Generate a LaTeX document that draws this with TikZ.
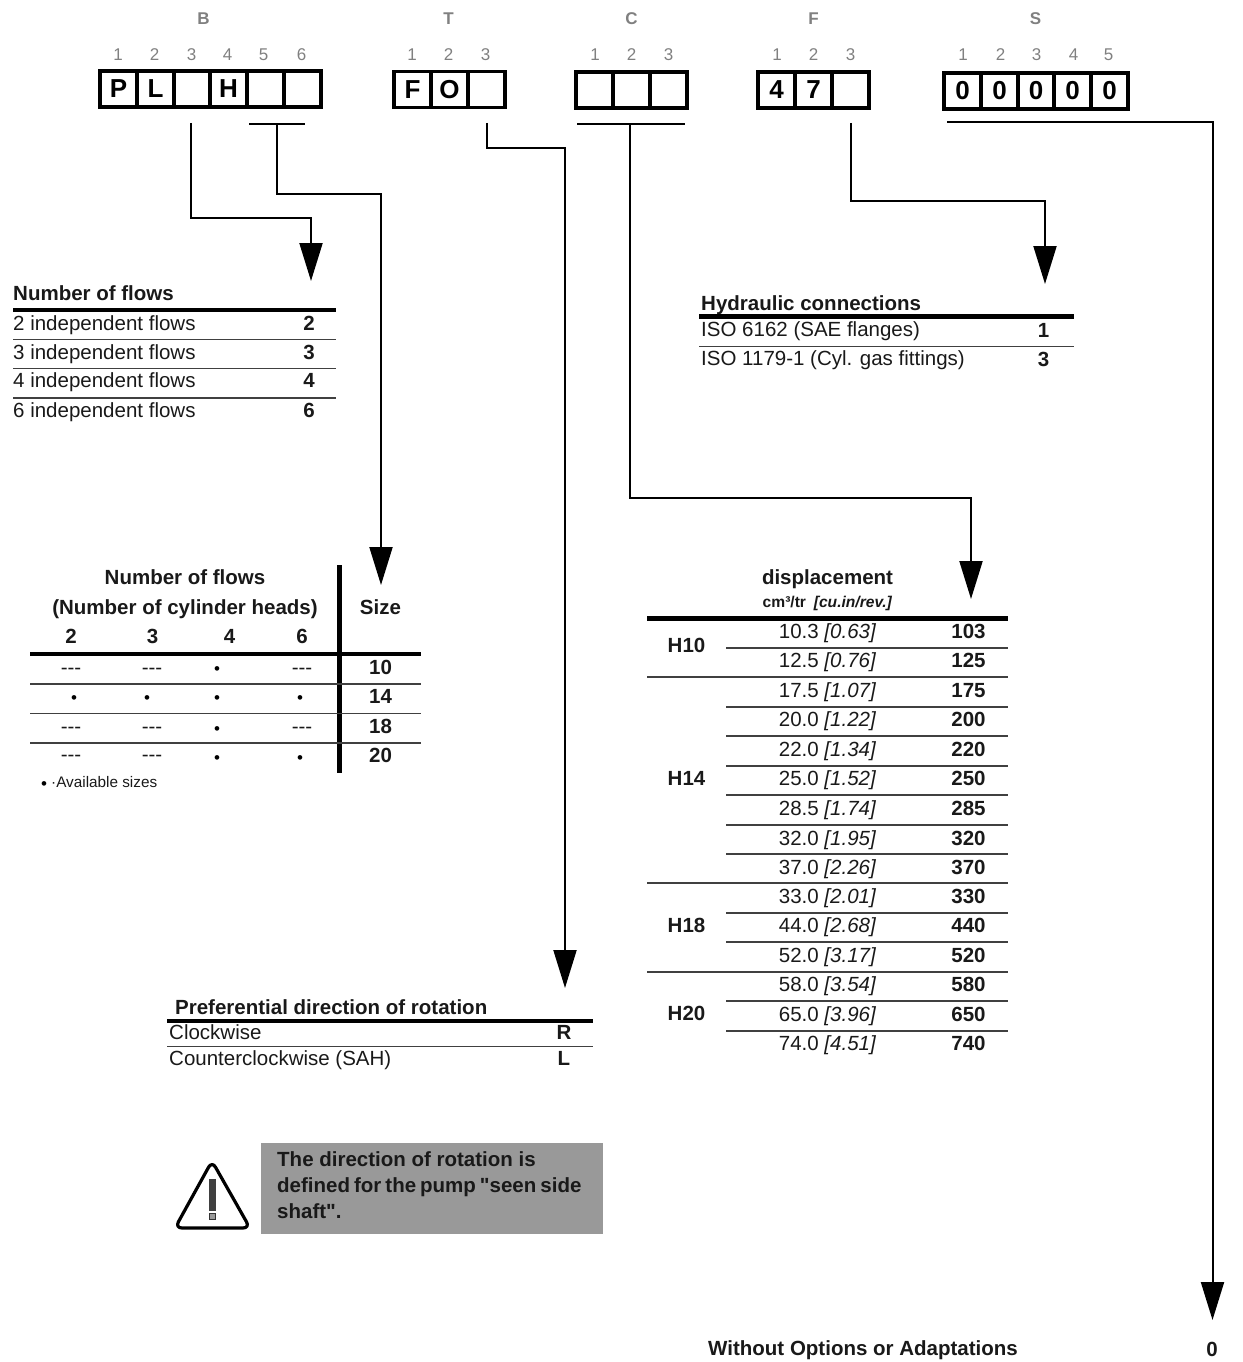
\documentclass[tikz,border=0pt]{standalone}
\usepackage{fontspec}
\setmainfont[Ligatures=TeXOff]{Liberation Sans}
\usetikzlibrary{arrows.meta}
\newcommand{\fs}[1]{\fontsize{#1}{#1}\selectfont}
\definecolor{hdr}{gray}{0.5}
\definecolor{ink}{gray}{0.1}
\definecolor{warn}{gray}{0.6}
\tikzset{
  T/.style={anchor=base west,inner sep=0pt,text=ink,font=\fs{20.5}},
  B/.style={anchor=base west,inner sep=0pt,text=ink,font=\fs{20.5}\bfseries},
  C/.style={anchor=base,inner sep=0pt,text=ink,font=\fs{20.5}\bfseries},
  CN/.style={anchor=base,inner sep=0pt,text=ink,font=\fs{20.5}},
  hl/.style={anchor=base,inner sep=0pt,text=hdr,font=\fs{17}\bfseries},
  hn/.style={anchor=base,inner sep=0pt,text=hdr,font=\fs{17}},
  cell/.style={draw=black,line width=3.6pt,minimum width=36.7pt,minimum height=36pt,inner sep=0pt,anchor=center,text=black,font=\fs{26}\bfseries},
  conn/.style={draw=black,line width=2pt},
  arr/.style={conn,-{Triangle[length=38pt,width=23pt]}},
  thick rule/.style={draw=black,line width=4.4pt},
  thin rule/.style={draw=black!75,line width=1.4pt},
  dot/.style={anchor=center,inner sep=0pt,text=black,font=\fs{17}},
}
\begin{document}
\begin{tikzpicture}[x=1pt,y=-1pt]
\useasboundingbox (0,0) rectangle (1242,1362);

% header letters and digits
\node[hl] (lb) at (203.5,25) {B};
\node[hl] (lt) at (448.5,25) {T};
\node[hl] (lc) at (631.5,25) {C};
\node[hl] (lf) at (813.5,25) {F};
\node[hl] (ls) at (1035.5,25) {S};
\foreach \n/\x/\d in {a1/118/1,a2/154.5/2,a3/191.5/3,a4/227.5/4,a5/263.5/5,a6/301.5/6,
  b1/412/1,b2/448.5/2,b3/485.5/3,c1/595/1,c2/631.5/2,c3/668.5/3,d1/777/1,d2/813.5/2,d3/850.5/3,
  e1/963/1,e2/1000.5/2,e3/1036.5/3,e4/1073.5/4,e5/1108.5/5}
  \node[hn] (n\n) at (\x,61) {\d};

% code boxes
\foreach \n/\x/\t in {1/118.5/P,2/155.5/L,3/192/{},4/228.5/H,5/265.5/{},6/302.5/{}}
  \node[cell] (ba\n) at (\x,89) {\t};
\foreach \n/\x/\t in {1/412.5/F,2/449.5/O,3/486.5/{}}
  \node[cell] (tb\n) at (\x,89.5) {\t};
\foreach \n/\x in {1/594.5,2/631.5,3/668.5}
  \node[cell] (cb\n) at (\x,90) {};
\foreach \n/\x/\t in {1/776.5/4,2/813.5/7,3/850.5/{}}
  \node[cell] (fb\n) at (\x,90) {\t};
\foreach \n/\x in {1/962.5,2/999.5,3/1036,4/1072.5,5/1109.5}
  \node[cell] (sb\n) at (\x,91) {0};

% connector ends
\coordinate (s1) at (191,123);
\coordinate (k1) at (311,218);
\coordinate (e1) at (311,281);
\coordinate (bar2l) at (249,124);
\coordinate (bar2r) at (305,124);
\coordinate (s2) at (277,124);
\coordinate (k2) at (381,194);
\coordinate (e2) at (381,585);
\coordinate (s3) at (487,123);
\coordinate (k3) at (565,148);
\coordinate (e3) at (565,988);
\coordinate (bar4l) at (577,124);
\coordinate (bar4r) at (685,124);
\coordinate (s4) at (630,124);
\coordinate (k4) at (971,498);
\coordinate (e4) at (971,599);
\coordinate (s5) at (851,123);
\coordinate (k5) at (1045,201);
\coordinate (e5) at (1045,284);
\coordinate (s6) at (947,122);
\coordinate (k6) at (1212.5,122);
\coordinate (e6) at (1212.5,1320);

\draw[arr] (s1) |- (k1) -- (e1);
\draw[conn] (bar2l) -- (bar2r);
\draw[arr] (s2) |- (k2) -- (e2);
\draw[arr] (s3) |- (k3) -- (e3);
\draw[conn] (bar4l) -- (bar4r);
\draw[arr] (s4) |- (k4) -- (e4);
\draw[arr] (s5) |- (k5) -- (e5);
\draw[arr] (s6) -- (k6) -- (e6);

% Number of flows table
\node[B] (t1h) at (13,300) {Number of flows};
\draw[thick rule] (13,310) -- (336,310);
\foreach \n/\y/\v in {2/330/2,3/359/3,4/387/4,6/417/6}{
  \node[T] (t1r\n) at (13,\y) {\v{} independent flows};
  \node[C] (t1v\n) at (309,\y) {\v};
}
\foreach \y in {339.5,368.5,398} \draw[thin rule] (13,\y) -- (336,\y);

% Size table
\node[C] (t2h1) at (185,584) {Number of flows};
\node[C] (t2h2) at (185,614) {(Number of cylinder heads)};
\node[C] (t2size) at (380.5,614) {Size};
\foreach \x/\v in {71/2,152.5/3,229.5/4,302/6} \node[C] (t2c\v) at (\x,643) {\v};
\draw[thick rule] (30,654) -- (421,654);
\draw[draw=black,line width=4.4pt] (339.5,565) -- (339.5,773);
\foreach \y in {684,713.5,743} \draw[thin rule] (30,\y) -- (421,\y);
\foreach \v/\y in {10/674,14/703,18/733,20/762} \node[C] (t2v\v) at (380.5,\y) {\v};
\foreach \n/\x/\y in {a/71/674,b/152/674,c/302/674,d/71/733,e/152/733,f/302/733,g/71/761,h/152/761}
  \node[CN] (t2d\n) at (\x,\y) {---};
\foreach \n/\x/\y in {a/217/670.5,b/74/699.5,c/147/699.5,d/217/699.5,e/300/699.5,f/217/730.5,g/217/759.5,h/300/759.5}
  \node[dot] (t2b\n) at (\x,\y) {•};
\node[dot] (t2fb) at (44,785.5) {•};
\node[T,font=\fs{15.3}] (t2foot) at (51,787) {·Available sizes};

% Hydraulic connections
\node[B] (t3h) at (701,310) {Hydraulic connections};
\draw[thick rule] (699,316.5) -- (1074,316.5);
\node[T] (t3r1) at (701,336) {ISO 6162 (SAE flanges)};
\node[C] (t3v1) at (1043.5,337) {1};
\draw[thin rule] (699,346.5) -- (1074,346.5);
\node[T] (t3r2) at (701,365) {ISO 1179-1 (Cyl. gas fittings)};
\node[C] (t3v2) at (1043.5,366) {3};

% Displacement table
\node[C] (t4h) at (827.5,584) {displacement};
\node[C,font=\fs{15.6}\bfseries] (t4u) at (827.5,607) {cm³/tr\enspace\textit{[cu.in/rev.]}};
\draw[draw=black,line width=5pt] (647,618) -- (1008,618);
\foreach \n/\a/\b/\v/\y in {
  1/10.3/0.63/103/638, 2/12.5/0.76/125/667, 3/17.5/1.07/175/697, 4/20.0/1.22/200/726,
  5/22.0/1.34/220/756, 6/25.0/1.52/250/785, 7/28.5/1.74/285/815, 8/32.0/1.95/320/845,
  9/37.0/2.26/370/874, 10/33.0/2.01/330/903, 11/44.0/2.68/440/932, 12/52.0/3.17/520/962,
  13/58.0/3.54/580/991, 14/65.0/3.96/650/1021, 15/74.0/4.51/740/1050}{
  \node[CN] (t4a\n) at (827.5,\y) {\a{} \textit{[\b]}};
  \node[C] (t4v\n) at (968.5,\y) {\v};
}
\foreach \y in {648,707,736,766,795,825,854,913,942,1001,1031} \draw[thin rule] (726,\y) -- (1008,\y);
\foreach \y in {677,883,972} \draw[thin rule] (647,\y) -- (1008,\y);
\foreach \t/\y in {H10/652,H14/785,H18/932,H20/1020} \node[C] (t4\t) at (686.5,\y) {\t};

% Rotation table
\node[B] (t5h) at (175,1014) {Preferential direction of rotation};
\draw[thick rule] (167,1021) -- (593,1021);
\node[T] (t5r1) at (169,1039) {Clockwise};
\node[C] (t5v1) at (564,1039) {R};
\draw[thin rule] (167,1046.5) -- (593,1046.5);
\node[T] (t5r2) at (169,1065) {Counterclockwise (SAH)};
\node[C] (t5v2) at (564,1065) {L};

% Warning
\fill[warn] (261,1143) rectangle (603,1234);
\node[B] (w1) at (277,1166) {The direction of rotation is};
\node[B] (w2) at (277,1192) {\spaceskip=4pt defined for the pump "seen side};
\node[B] (w3) at (277,1218) {shaft".};
\draw[black,line width=3.2pt,line join=round,rounded corners=7pt] (212,1161) -- (250,1228) -- (175,1228) -- cycle;
\fill[black!75] (209,1179) rectangle (215.5,1211);
\draw[black!80,fill=black!40,line width=1pt] (209.5,1213.5) rectangle (215,1219.5);

% Bottom
\node[B] (bt) at (708,1355) {Without Options or Adaptations};
\node[C] (bz) at (1212,1356) {0};
\end{tikzpicture}
\end{document}
